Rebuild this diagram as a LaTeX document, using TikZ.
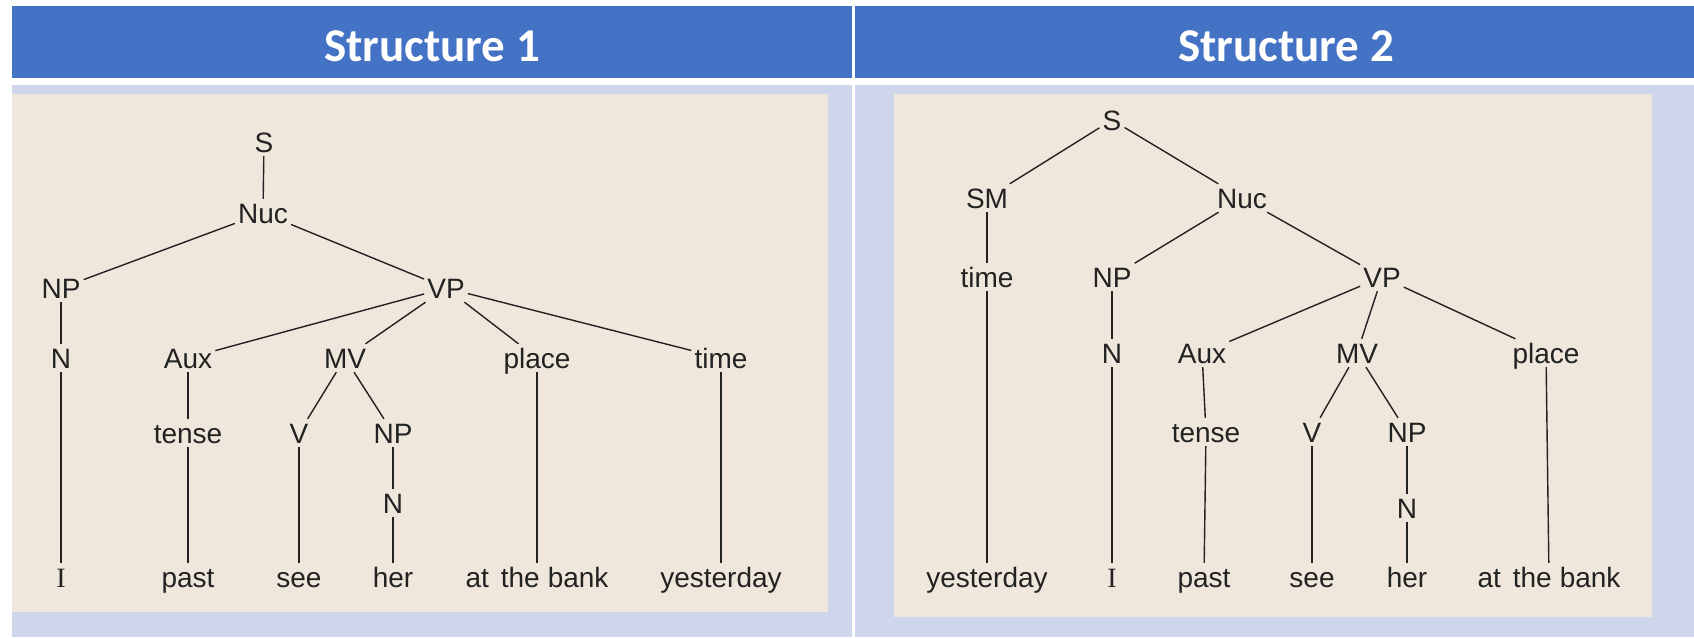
\documentclass[tikz,border=0pt]{standalone}
\usepackage{fontspec}
\setmainfont{Liberation Sans}
\newfontfamily\headfont{Carlito}
\newfontfamily\barfont{Liberation Serif}
\definecolor{headblue}{RGB}{68,114,196}
\definecolor{cellbg}{RGB}{207,213,234}
\definecolor{paper}{RGB}{239,231,219}
\definecolor{ink}{RGB}{34,34,34}
\newcommand{\bankwords}{at\hspace{12pt}the\hspace{8pt}bank}
\newcommand{\pronI}{{\barfont I}}
\begin{document}
\begin{tikzpicture}[x=1pt,y=-1pt,
  headtext/.style={anchor=base, text=white, font=\headfont\bfseries\fontsize{47}{52}\selectfont},
  tn/.style={anchor=base, inner xsep=3pt, inner ysep=4pt, text height=20pt, text depth=0pt,
             font=\fontsize{28}{32}\selectfont, text=ink},
  br/.style={draw=ink, line width=1.4pt}]
\useasboundingbox (0,0) rectangle (1694,637);
% table background
\fill[white] (0,0) rectangle (1694,637);
\fill[headblue] (12,6) rectangle (852,78);
\fill[headblue] (855,6) rectangle (1694,78);
\fill[cellbg] (12,85) rectangle (852,637);
\fill[cellbg] (855,85) rectangle (1694,637);
\fill[paper] (12,94) rectangle (828,612);
\fill[paper] (894,94) rectangle (1652,617);
% headers
\node[headtext] (h1) at (432,61) {Structure 1};
\node[headtext] (h2) at (1286,61) {Structure 2};

% ---- tree 1 ----
\node[tn] (aS)   at (264,152) {S};
\node[tn] (aNuc) at (263,223) {Nuc};
\node[tn] (aNP)  at (61,298)  {NP};
\node[tn] (aVP)  at (446,298) {VP};
\node[tn] (aN)   at (61,368)  {N};
\node[tn] (aAux) at (188,368) {Aux};
\node[tn] (aMV)  at (345,368) {MV};
\node[tn] (aPl)  at (537,368) {place};
\node[tn] (aTi)  at (721,368) {time};
\node[tn] (aTe)  at (188,443) {tense};
\node[tn] (aV)   at (299,443) {V};
\node[tn] (aNPb) at (393,443) {NP};
\node[tn] (aNb)  at (393,513) {N};
\node[tn] (aI)   at (61,587)  {\pronI};
\node[tn] (aPa)  at (188,587) {past};
\node[tn] (aSe)  at (299,587) {see};
\node[tn] (aHe)  at (393,587) {her};
\node[tn] (aBa)  at (537,587) {\bankwords};
\node[tn] (aYe)  at (721,587) {yesterday};

\draw[br] (aS) -- (aNuc);
\draw[br] (aNuc) -- (aNP);
\draw[br] (aNuc) -- (aVP);
\draw[br] (aNP) -- (aN);
\draw[br] (aN) -- (aI);
\draw[br] (aVP) -- (aAux);
\draw[br] (aVP) -- (aMV);
\draw[br] (aVP) -- (aPl);
\draw[br] (aVP) -- (aTi);
\draw[br] (aAux) -- (aTe);
\draw[br] (aTe) -- (aPa);
\draw[br] (aMV) -- (aV);
\draw[br] (aMV) -- (aNPb);
\draw[br] (aV) -- (aSe);
\draw[br] (aNPb) -- (aNb);
\draw[br] (aNb) -- (aHe);
\draw[br] (aPl) -- (aBa);
\draw[br] (aTi) -- (aYe);

% ---- tree 2 ----
\node[tn] (bS)   at (1112,130) {S};
\node[tn] (bSM)  at (987,208)  {SM};
\node[tn] (bNuc) at (1242,208) {Nuc};
\node[tn] (bTi)  at (987,287)  {time};
\node[tn] (bNP)  at (1112,287) {NP};
\node[tn] (bVP)  at (1382,287) {VP};
\node[tn] (bN)   at (1112,363) {N};
\node[tn] (bAux) at (1202,363) {Aux};
\node[tn] (bMV)  at (1357,363) {MV};
\node[tn] (bPl)  at (1546,363) {place};
\node[tn] (bTe)  at (1206,442) {tense};
\node[tn] (bV)   at (1312,442) {V};
\node[tn] (bNPb) at (1407,442) {NP};
\node[tn] (bNb)  at (1407,518) {N};
\node[tn] (bYe)  at (987,587)  {yesterday};
\node[tn] (bI)   at (1112,587) {\pronI};
\node[tn] (bPa)  at (1204,587) {past};
\node[tn] (bSe)  at (1312,587) {see};
\node[tn] (bHe)  at (1407,587) {her};
\node[tn] (bBa)  at (1549,587) {\bankwords};

\draw[br] (bS) -- (bSM);
\draw[br] (bS) -- (bNuc);
\draw[br] (bSM) -- (bTi);
\draw[br] (bTi) -- (bYe);
\draw[br] (bNuc) -- (bNP);
\draw[br] (bNuc) -- (bVP);
\draw[br] (bNP) -- (bN);
\draw[br] (bN) -- (bI);
\draw[br] (bVP) -- (bAux);
\draw[br] (bVP) -- (bMV);
\draw[br] (bVP) -- (bPl);
\draw[br] (bAux) -- (bTe);
\draw[br] (bTe) -- (bPa);
\draw[br] (bMV) -- (bV);
\draw[br] (bMV) -- (bNPb);
\draw[br] (bV) -- (bSe);
\draw[br] (bNPb) -- (bNb);
\draw[br] (bNb) -- (bHe);
\draw[br] (bPl) -- (bBa);
\end{tikzpicture}
\end{document}
